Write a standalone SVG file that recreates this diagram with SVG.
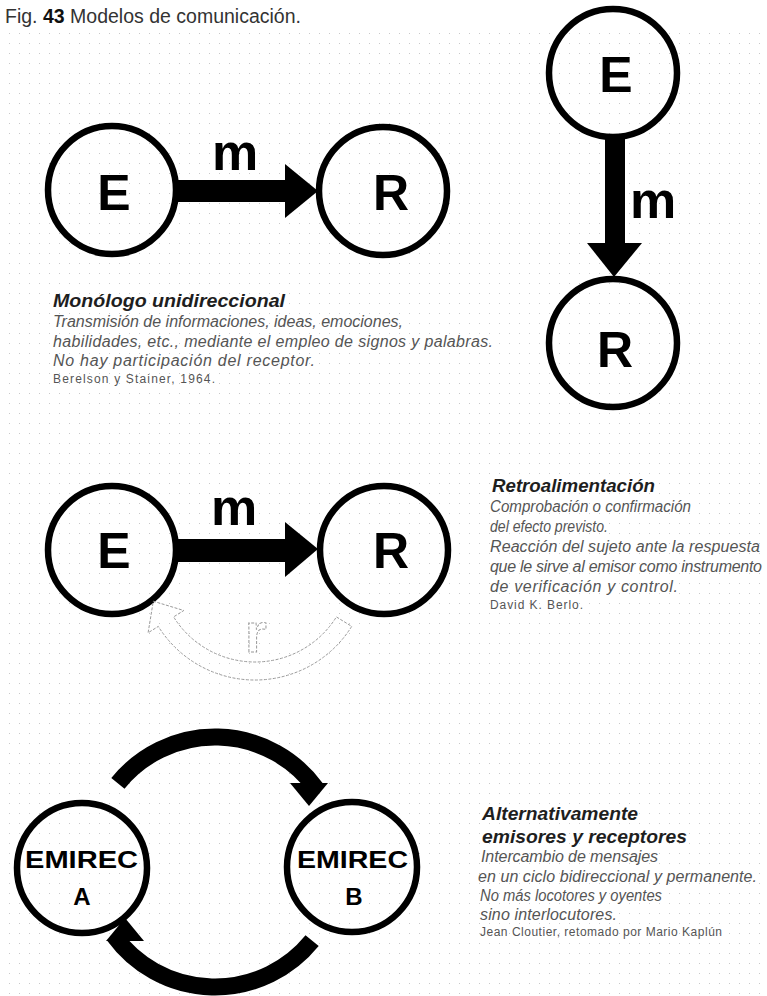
<svg xmlns="http://www.w3.org/2000/svg" width="767" height="996" viewBox="0 0 767 996">
  <defs>
    <pattern id="dots" width="10" height="10" patternUnits="userSpaceOnUse">
      <rect x="9" y="3" width="1" height="1" fill="#c9c9c9"/>
    </pattern>
    <style>
      .ring { fill: none; stroke: #000; stroke-width: 6.5; }
      .big { font-family: "Liberation Sans", Arial, sans-serif; font-weight: bold; font-size: 50px; fill: #000; text-anchor: middle; }
      .lbl { font-family: "Liberation Sans", Arial, sans-serif; font-weight: bold; font-size: 52px; fill: #000; text-anchor: middle; }
      .emi { font-family: "Liberation Sans", Arial, sans-serif; font-weight: bold; font-size: 24px; fill: #000; text-anchor: middle; }
      .head { font-family: "Liberation Sans", Arial, sans-serif; font-weight: bold; font-style: italic; font-size: 18.5px; fill: #1e1e1e; }
      .body { font-family: "Liberation Sans", Arial, sans-serif; font-style: italic; font-size: 16px; fill: #555; }
      .auth { font-family: "Liberation Sans", Arial, sans-serif; font-size: 12px; fill: #555; }
      .solid { fill: #000; }
      .arc { fill: none; stroke: #000; stroke-width: 17; }
      .ghost { fill: none; stroke: #9a9a9a; stroke-width: 1; stroke-dasharray: 3 1.5; }
      .ghost-txt { font-family: "Liberation Sans", Arial, sans-serif; font-weight: bold; font-size: 56px; fill: none; stroke: #9a9a9a; stroke-width: 1; stroke-dasharray: 3 1.5; text-anchor: middle; }
    </style>
  </defs>

  <rect width="767" height="996" fill="#fff"/>
  <rect x="0" y="28" width="767" height="968" fill="url(#dots)"/>

  <!-- title -->
  <text x="5" y="23" font-family="Liberation Sans, Arial, sans-serif" font-size="19.5" fill="#333">Fig. <tspan font-weight="bold" fill="#111">43</tspan> Modelos de comunicación.</text>

  <!-- model 1: horizontal monologue -->
  <g id="node-e1">
    <circle class="ring" cx="112" cy="190" r="64"/>
    <text class="big" x="114" y="210">E</text>
  </g>
  <g id="node-r1">
    <circle class="ring" cx="383" cy="191" r="64"/>
    <text class="big" x="391" y="210">R</text>
  </g>

  <!-- model 1b: vertical monologue -->
  <g id="node-e2">
    <circle class="ring" cx="613" cy="73" r="64"/>
    <text class="big" x="616" y="92">E</text>
  </g>
  <g id="node-r2">
    <circle class="ring" cx="613" cy="343" r="64"/>
    <text class="big" x="615" y="367">R</text>
  </g>

  <!-- model 2: feedback -->
  <g id="node-e3">
    <circle class="ring" cx="112" cy="550" r="64"/>
    <text class="big" x="114" y="568">E</text>
  </g>
  <g id="node-r3">
    <circle class="ring" cx="384" cy="550" r="64"/>
    <text class="big" x="391" y="568">R</text>
  </g>

  <!-- model 3: EMIREC -->
  <g id="node-emirec-a">
    <circle class="ring" cx="82" cy="868" r="65"/>
    <text class="emi" x="81.5" y="868" textLength="113" lengthAdjust="spacingAndGlyphs">EMIREC</text>
    <text class="emi" x="82" y="905" font-size="25">A</text>
  </g>
  <g id="node-emirec-b">
    <circle class="ring" cx="352" cy="867" r="65"/>
    <text class="emi" x="352.5" y="868" textLength="111" lengthAdjust="spacingAndGlyphs">EMIREC</text>
    <text class="emi" x="354" y="905" font-size="25">B</text>
  </g>

  <g id="connectors">
    <!-- E to R, horizontal -->
    <rect class="solid" x="177" y="180" width="110" height="22"/>
    <polygon class="solid" points="285,164 285,218 318,191"/>
    <text class="lbl" x="235" y="170">m</text>

    <!-- E to R, vertical -->
    <rect class="solid" x="605" y="136" width="20" height="109"/>
    <polygon class="solid" points="587,243 642,243 614,277"/>
    <text class="lbl" x="653" y="218">m</text>

    <!-- E to R with feedback -->
    <rect class="solid" x="177" y="539" width="110" height="23"/>
    <polygon class="solid" points="285,522 285,577 318,549"/>
    <text class="lbl" x="234" y="525">m</text>
    <path class="ghost" d="M 351.7 626.4 A 114 114 0 0 1 158.3 626.4 L 148.1 632.8 L 153.3 601.2 L 183.8 610.5 L 173.6 616.9 A 96 96 0 0 0 336.4 616.9 Z"/>
    <text class="ghost-txt" x="256" y="652">r</text>

    <!-- EMIREC exchange loop -->
    <path class="arc" d="M 117.9 783.3 A 125 125 0 0 1 316.1 788.5"/>
    <polygon class="solid" points="290,783 328,783 309,806"/>
    <path class="arc" d="M 312.1 940.7 A 125 125 0 0 1 113.9 935.5"/>
    <polygon class="solid" points="106,941 144,941 125,918"/>
  </g>

  <!-- captions -->
  <g id="caption-monologo">
    <text class="head" x="53" y="307" textLength="232" lengthAdjust="spacingAndGlyphs">Monólogo unidireccional</text>
    <text class="body" x="53" y="327" textLength="350" lengthAdjust="spacing">Transmisión de informaciones, ideas, emociones,</text>
    <text class="body" x="53" y="347" textLength="440" lengthAdjust="spacing">habilidades, etc., mediante el empleo de signos y palabras.</text>
    <text class="body" x="53" y="366" textLength="262" lengthAdjust="spacing">No hay participación del receptor.</text>
    <text class="auth" x="53" y="383" textLength="162" lengthAdjust="spacing">Berelson y Stainer, 1964.</text>
  </g>

  <g id="caption-retro">
    <text class="head" x="492" y="492" textLength="163" lengthAdjust="spacingAndGlyphs">Retroalimentación</text>
    <text class="body" x="490" y="512" textLength="201" lengthAdjust="spacingAndGlyphs">Comprobación o confirmación</text>
    <text class="body" x="490" y="532" textLength="118" lengthAdjust="spacingAndGlyphs">del efecto previsto.</text>
    <text class="body" x="490" y="552" textLength="270" lengthAdjust="spacing">Reacción del sujeto ante la respuesta</text>
    <text class="body" x="490" y="572" textLength="272" lengthAdjust="spacing">que le sirve al emisor como instrumento</text>
    <text class="body" x="490" y="592" textLength="188" lengthAdjust="spacing">de verificación y control.</text>
    <text class="auth" x="490" y="609" textLength="93" lengthAdjust="spacing">David K. Berlo.</text>
  </g>

  <g id="caption-emirec">
    <text class="head" x="482" y="820" textLength="156" lengthAdjust="spacingAndGlyphs">Alternativamente</text>
    <text class="head" x="482" y="843" textLength="205" lengthAdjust="spacingAndGlyphs">emisores y receptores</text>
    <text class="body" x="481" y="862" textLength="177" lengthAdjust="spacing">Intercambio de mensajes</text>
    <text class="body" x="478" y="882" textLength="279" lengthAdjust="spacing">en un ciclo bidireccional y permanente.</text>
    <text class="body" x="480" y="901" textLength="182" lengthAdjust="spacingAndGlyphs">No más locotores y oyentes</text>
    <text class="body" x="480" y="920" textLength="137" lengthAdjust="spacing">sino interlocutores.</text>
    <text class="auth" x="480" y="936" textLength="242" lengthAdjust="spacing">Jean Cloutier, retomado por Mario Kaplún</text>
  </g>
</svg>
